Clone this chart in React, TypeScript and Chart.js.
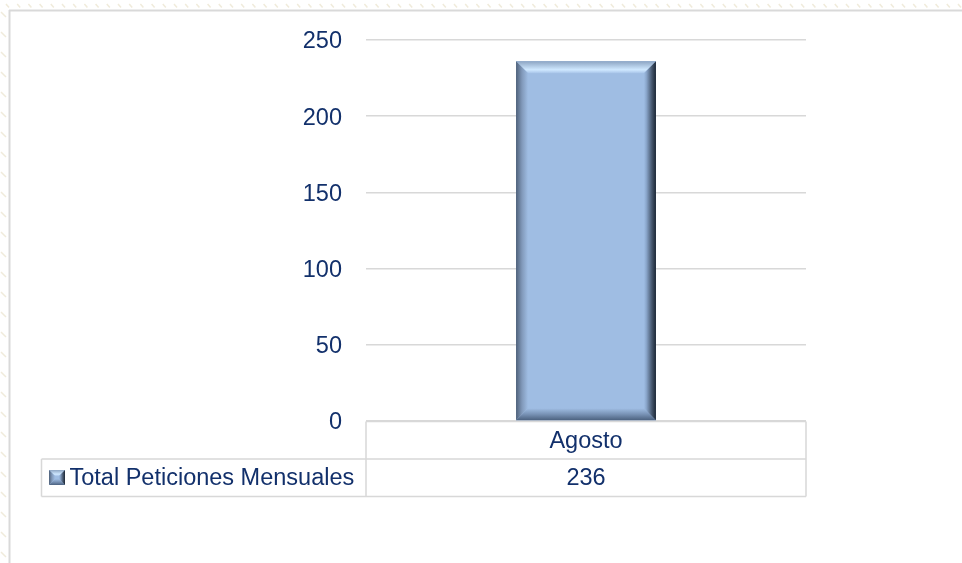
import React, { useEffect, useRef } from 'react';
import { Chart, registerables } from 'chart.js';

Chart.register(...registerables);

// Chart data
const categories: string[] = ['Agosto'];
const seriesName = 'Total Peticiones Mensuales';
const peticiones: number[] = [236];
const yMin = 0;
const yMax = 250;
const yStep = 50;

const TEXT = '#12306B';
const LINE = '#D8D8D8';
const FONT = "'Liberation Sans', Arial, sans-serif";
const FONT_SIZE = 23.5;
const FILL = '#9FBDE3';

type Pt = [number, number];

function poly(ctx: CanvasRenderingContext2D, pts: Pt[], style: CanvasGradient | string) {
  ctx.beginPath();
  ctx.moveTo(pts[0][0], pts[0][1]);
  for (let i = 1; i < pts.length; i++) ctx.lineTo(pts[i][0], pts[i][1]);
  ctx.closePath();
  ctx.fillStyle = style;
  ctx.fill();
}

// Beveled block: flat face with lit top edge and shaded sides
function bevelBox(ctx: CanvasRenderingContext2D, x0: number, y0: number, x1: number, y1: number, b: number) {
  ctx.save();
  ctx.fillStyle = FILL;
  ctx.fillRect(x0, y0, x1 - x0, y1 - y0);

  let g = ctx.createLinearGradient(0, y0, 0, y0 + b);
  g.addColorStop(0, '#8DA5C3');
  g.addColorStop(0.7, '#CFE8FF');
  g.addColorStop(1, '#A6C3E8');
  poly(ctx, [[x0, y0], [x1, y0], [x1 - b, y0 + b], [x0 + b, y0 + b]], g);

  g = ctx.createLinearGradient(0, y1, 0, y1 - b);
  g.addColorStop(0, '#4B617F');
  g.addColorStop(0.5, '#7892B5');
  g.addColorStop(1, FILL);
  poly(ctx, [[x0, y1], [x1, y1], [x1 - b, y1 - b], [x0 + b, y1 - b]], g);

  g = ctx.createLinearGradient(x0, 0, x0 + b, 0);
  g.addColorStop(0, '#4F617A');
  g.addColorStop(0.5, '#8199BA');
  g.addColorStop(1, FILL);
  poly(ctx, [[x0, y0], [x0 + b, y0 + b], [x0 + b, y1 - b], [x0, y1]], g);

  g = ctx.createLinearGradient(x1, 0, x1 - b, 0);
  g.addColorStop(0, '#1B2634');
  g.addColorStop(0.35, '#47586F');
  g.addColorStop(0.8, '#8AA6CB');
  g.addColorStop(1, FILL);
  poly(ctx, [[x1, y0], [x1 - b, y0 + b], [x1 - b, y1 - b], [x1, y1]], g);
  ctx.restore();
}

// Sheet edge: gray frame line with faint hatching outside it
const framePlugin = {
  id: 'sheetFrame',
  beforeDraw(chart: Chart) {
    const ctx = chart.ctx;
    const w = chart.width;
    const h = chart.height;
    ctx.save();
    ctx.fillStyle = '#ffffff';
    ctx.fillRect(0, 0, w, h);
    ctx.strokeStyle = '#F0EBDB';
    ctx.lineWidth = 1.5;
    ctx.beginPath();
    for (let x = 6; x < w; x += 11.2) {
      ctx.moveTo(x, 4);
      ctx.lineTo(x + 3, 7.5);
    }
    for (let y = 12; y < h; y += 20) {
      ctx.moveTo(1, y);
      ctx.lineTo(6, y + 5);
    }
    ctx.stroke();
    ctx.strokeStyle = '#D9D9D9';
    ctx.lineWidth = 2;
    ctx.beginPath();
    ctx.moveTo(9, 10.5);
    ctx.lineTo(w, 10.5);
    ctx.moveTo(9.5, 10);
    ctx.lineTo(9.5, h);
    ctx.stroke();
    ctx.restore();
  },
};

// Bevel overlay on each bar, from the bar element geometry
const bevelPlugin = {
  id: 'bevelBars',
  afterDatasetsDraw(chart: Chart) {
    const ctx = chart.ctx;
    const meta = chart.getDatasetMeta(0);
    meta.data.forEach((el: any) => {
      const { x, y, base, width } = el.getProps(['x', 'y', 'base', 'width'], true);
      bevelBox(ctx, x - width / 2, y, x + width / 2, base, 12);
    });
  },
};

// Data table under the plot: category row and series row with legend key
const tablePlugin = {
  id: 'dataTable',
  afterDraw(chart: Chart) {
    const ctx = chart.ctx;
    const area = chart.chartArea;
    const xs = chart.scales.x;
    const rowH = 37.5;
    const top = area.bottom + 0.5;
    const mid = top + rowH;
    const bot = mid + rowH;
    const legendLeft = 41.5;
    const colW = (area.right - area.left) / categories.length;

    ctx.save();
    ctx.strokeStyle = LINE;
    ctx.lineWidth = 1.5;
    ctx.beginPath();
    ctx.moveTo(area.left, top);
    ctx.lineTo(area.right, top);
    ctx.moveTo(legendLeft, mid);
    ctx.lineTo(area.right, mid);
    ctx.moveTo(legendLeft, bot);
    ctx.lineTo(area.right, bot);
    ctx.moveTo(legendLeft, mid);
    ctx.lineTo(legendLeft, bot);
    for (let i = 0; i <= categories.length; i++) {
      const xx = area.left + i * colW;
      ctx.moveTo(xx, top);
      ctx.lineTo(xx, bot);
    }
    ctx.stroke();

    ctx.fillStyle = TEXT;
    ctx.font = `${FONT_SIZE}px ${FONT}`;
    ctx.textAlign = 'center';
    ctx.textBaseline = 'middle';
    categories.forEach((c, i) => {
      const cx = xs.getPixelForValue(i);
      ctx.fillText(c, cx, top + rowH / 2 + 1);
      ctx.fillText(String(peticiones[i]), cx, mid + rowH / 2 + 1);
    });

    // legend key
    bevelBox(ctx, 49, 470, 65, 485, 6);
    ctx.fillStyle = TEXT;
    ctx.textAlign = 'left';
    ctx.fillText(seriesName, 69.5, mid + rowH / 2 + 1);
    ctx.restore();
  },
};

export default function App() {
  const canvasRef = useRef<HTMLCanvasElement | null>(null);

  useEffect(() => {
    const canvas = canvasRef.current;
    if (!canvas) return;
    const chart = new Chart(canvas, {
      type: 'bar',
      data: {
        labels: categories,
        datasets: [
          {
            label: seriesName,
            data: peticiones,
            backgroundColor: FILL,
            borderWidth: 0,
            barPercentage: 0.318,
            categoryPercentage: 1,
          },
        ],
      },
      options: {
        responsive: false,
        animation: false,
        events: [],
        layout: { padding: { left: 0, right: 156, top: 40, bottom: 142 } },
        plugins: {
          legend: { display: false },
          tooltip: { enabled: false },
          title: { display: false },
        },
        scales: {
          x: {
            display: false,
            grid: { display: false },
          },
          y: {
            min: yMin,
            max: yMax,
            afterFit(scale: any) {
              scale.width = 366;
            },
            ticks: {
              stepSize: yStep,
              color: TEXT,
              padding: 24,
              labelOffset: 2,
              font: { family: FONT, size: FONT_SIZE },
            },
            grid: {
              color: LINE,
              lineWidth: 1.5,
              drawTicks: false,
            },
            border: { display: false },
          },
        },
      },
      plugins: [framePlugin, bevelPlugin, tablePlugin],
    });
    return () => chart.destroy();
  }, []);

  return (
    <div style={{ position: 'absolute', left: 0, top: 0, width: 962, height: 563 }}>
      <canvas ref={canvasRef} width={962} height={563} />
    </div>
  );
}
